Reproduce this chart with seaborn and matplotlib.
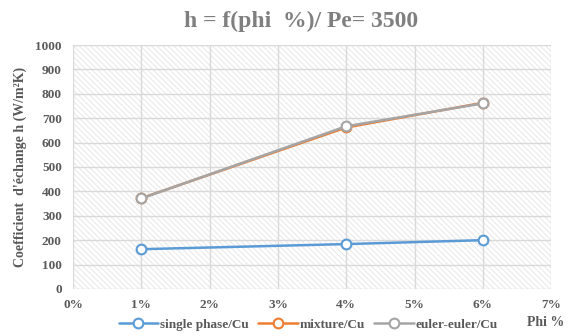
import pandas as pd
import seaborn as sns
import matplotlib.pyplot as plt

phi = [1, 4, 6]
single_phase = [163, 184, 200]
mixture = [372, 662, 763]
euler_euler = [371, 667, 761]

series_names = ["single phase/Cu", "mixture/Cu", "euler-euler/Cu"]
colors = ["#5B9BD5", "#ED7D31", "#A5A5A5"]

rows = []
for name, vals in zip(series_names, [single_phase, mixture, euler_euler]):
    for x, y in zip(phi, vals):
        rows.append({"phi": x, "h": y, "serie": name})
df = pd.DataFrame(rows)

sns.set_style("white")
plt.rcParams["font.family"] = ["Liberation Serif", "DejaVu Serif"]
plt.rcParams["hatch.linewidth"] = 0.6

fig = plt.figure(figsize=(5.7, 3.36), dpi=100)
ax = fig.add_axes([0.128, 0.140, 0.839, 0.726])

# hatched background like the Excel pattern fill
ax.patch.set_facecolor("white")
ax.patch.set_hatch("\\\\\\\\\\\\")
ax.patch.set_edgecolor("#e4e4e4")
ax.patch.set_linewidth(0)

sns.lineplot(data=df, x="phi", y="h", hue="serie", palette=colors,
             marker="o", markersize=7, markerfacecolor="white",
             markeredgewidth=1.5, linewidth=1.8, ax=ax, legend=False)
for ln, c in zip(ax.lines, colors):
    ln.set_markeredgecolor(c)

ax.set_xlim(0, 7)
ax.set_ylim(0, 1000)
ax.set_xticks(range(0, 8))
ax.set_xticklabels([f"{i}%" for i in range(0, 8)])
ax.set_yticks(range(0, 1001, 100))
ax.grid(True, color="#d9d9d9", linewidth=1)
ax.set_axisbelow(True)
for s in ax.spines.values():
    s.set_visible(False)
ax.tick_params(length=0, labelsize=9.5, colors="#595959")
ax.tick_params(axis="y", pad=8)
ax.tick_params(axis="x", pad=7)
for lab in ax.get_xticklabels() + ax.get_yticklabels():
    lab.set_fontweight("bold")

ax.set_xlabel("")
ax.set_ylabel("Coefficient  d'échange h (W/m²K)", fontsize=10,
              fontweight="bold", color="#595959", labelpad=6)
fig.text(0.528, 0.935, "h = f(phi  %)/ Pe= 3500", ha="center", va="center",
         fontsize=17, fontweight="bold", color="#7f7f7f")
fig.text(0.958, 0.040, "Phi %", ha="center", va="center", fontsize=10,
         fontweight="bold", color="#595959")

handles = [plt.Line2D([], [], color=c, marker="o", markerfacecolor="white",
                      markeredgecolor=c, markersize=7, markeredgewidth=1.5,
                      linewidth=1.8) for c in colors]
leg = fig.legend(handles, series_names, loc="center", ncol=3,
                 bbox_to_anchor=(0.541, 0.034), frameon=False, fontsize=9.5,
                 handlelength=3.0, columnspacing=0.7, handletextpad=0.15)
for t in leg.get_texts():
    t.set_fontweight("bold")
    t.set_color("#595959")

fig.savefig("out.png", dpi=100)
